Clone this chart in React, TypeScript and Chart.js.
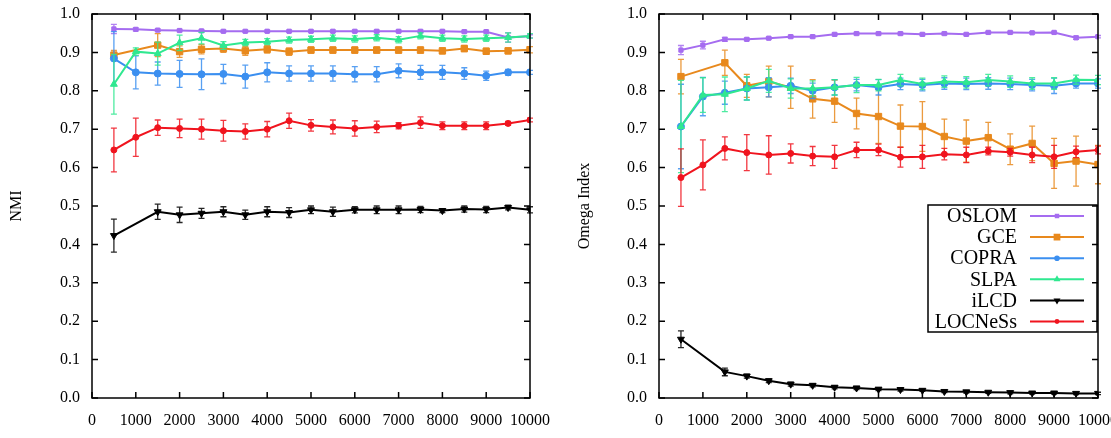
import React, { useEffect, useRef } from "react";
import { Chart, registerables } from "chart.js";

Chart.register(...registerables);

// ---------- data ----------
const xValues = [500, 1000, 1500, 2000, 2500, 3000, 3500, 4000, 4500, 5000, 5500, 6000, 6500, 7000, 7500, 8000, 8500, 9000, 9500, 10000];
const seriesNames = ["OSLOM", "GCE", "COPRA", "SLPA", "iLCD", "LOCNeSs"];

// NMI (left panel)
const nmiOSLOM = [0.961, 0.960, 0.958, 0.957, 0.956, 0.955, 0.955, 0.955, 0.955, 0.955, 0.955, 0.955, 0.955, 0.955, 0.955, 0.955, 0.954, 0.954, 0.939, 0.942];
const nmiGCE = [0.893, null, 0.919, 0.902, 0.908, 0.910, 0.904, 0.908, 0.902, 0.906, 0.906, 0.906, 0.906, 0.906, 0.906, 0.904, 0.910, 0.903, 0.904, 0.907];
const nmiCOPRA = [0.884, 0.848, 0.845, 0.844, 0.843, 0.844, 0.837, 0.848, 0.845, 0.845, 0.845, 0.843, 0.843, 0.852, 0.848, 0.848, 0.845, 0.839, 0.848, 0.848];
const nmiSLPA = [0.817, 0.902, 0.897, 0.925, 0.937, 0.918, 0.926, 0.928, 0.932, 0.934, 0.937, 0.935, 0.938, 0.933, 0.943, 0.937, 0.935, 0.937, 0.939, 0.943];
const nmiILCD = [0.423, null, 0.485, 0.477, 0.481, 0.485, 0.477, 0.485, 0.483, 0.490, 0.485, 0.490, 0.490, 0.490, 0.491, 0.488, 0.492, 0.491, 0.496, 0.490];
const nmiLOCNeSs = [0.646, 0.679, 0.704, 0.702, 0.700, 0.696, 0.694, 0.700, 0.722, 0.710, 0.706, 0.702, 0.706, 0.709, 0.717, 0.709, 0.709, 0.709, 0.715, 0.724];

const nmiOSLOMErr = [0.012, 0.004, 0.003, 0.003, 0.003, 0.003, 0.003, 0.003, 0.003, 0.003, 0.003, 0.003, 0.003, 0.003, 0.003, 0.003, 0.003, 0.003, 0.012, 0.004];
const nmiGCEErr = [0.012, 0, 0.03, 0.015, 0.012, 0.01, 0.012, 0.01, 0.01, 0.008, 0.008, 0.008, 0.008, 0.008, 0.008, 0.008, 0.008, 0.008, 0.008, 0.008];
const nmiCOPRAErr = [0.07, 0.043, 0.03, 0.035, 0.04, 0.025, 0.03, 0.025, 0.02, 0.02, 0.02, 0.02, 0.02, 0.018, 0.018, 0.018, 0.015, 0.012, 0.008, 0.005];
const nmiSLPAErr = [0.078, 0.01, 0.03, 0.02, 0.015, 0.01, 0.008, 0.008, 0.008, 0.008, 0.008, 0.008, 0.008, 0.008, 0.008, 0.008, 0.008, 0.008, 0.012, 0.006];
const nmiILCDErr = [0.043, 0, 0.02, 0.02, 0.013, 0.013, 0.012, 0.013, 0.013, 0.01, 0.012, 0.008, 0.01, 0.01, 0.008, 0.005, 0.008, 0.008, 0.006, 0.008];
const nmiLOCNeSsErr = [0.057, 0.05, 0.02, 0.024, 0.026, 0.027, 0.02, 0.02, 0.02, 0.015, 0.018, 0.02, 0.015, 0.008, 0.015, 0.01, 0.01, 0.01, 0.005, 0.005];

// Omega Index (right panel)
const omOSLOM = [0.906, 0.919, 0.934, 0.934, 0.937, 0.941, 0.941, 0.947, 0.949, 0.949, 0.949, 0.947, 0.949, 0.947, 0.952, 0.952, 0.951, 0.952, 0.938, 0.941];
const omGCE = [0.837, null, 0.873, 0.813, 0.824, 0.809, 0.779, 0.773, 0.741, 0.733, 0.708, 0.707, 0.681, 0.669, 0.678, 0.648, 0.663, 0.611, 0.617, 0.608];
const omCOPRA = [0.707, 0.785, 0.795, 0.806, 0.809, 0.813, 0.800, 0.809, 0.815, 0.809, 0.818, 0.815, 0.819, 0.818, 0.819, 0.818, 0.815, 0.813, 0.819, 0.819];
const omSLPA = [0.707, 0.789, 0.791, 0.806, 0.826, 0.806, 0.806, 0.809, 0.815, 0.815, 0.828, 0.818, 0.824, 0.822, 0.828, 0.824, 0.819, 0.819, 0.829, 0.828];
const omILCD = [0.153, null, 0.068, 0.057, 0.045, 0.036, 0.033, 0.028, 0.026, 0.023, 0.022, 0.020, 0.017, 0.016, 0.015, 0.014, 0.013, 0.013, 0.012, 0.012];
const omLOCNeSs = [0.574, 0.607, 0.650, 0.639, 0.633, 0.637, 0.630, 0.628, 0.646, 0.646, 0.627, 0.628, 0.635, 0.633, 0.643, 0.640, 0.633, 0.628, 0.641, 0.646];

const omOSLOMErr = [0.012, 0.01, 0.005, 0.003, 0.003, 0.003, 0.003, 0.003, 0.003, 0.003, 0.003, 0.003, 0.003, 0.003, 0.003, 0.003, 0.003, 0.003, 0.004, 0.003];
const omGCEErr = [0.045, 0, 0.033, 0.03, 0.04, 0.055, 0.05, 0.055, 0.04, 0.07, 0.055, 0.065, 0.045, 0.055, 0.04, 0.04, 0.045, 0.065, 0.065, 0.05];
const omCOPRAErr = [0.11, 0.05, 0.03, 0.03, 0.025, 0.02, 0.02, 0.02, 0.015, 0.02, 0.015, 0.015, 0.015, 0.015, 0.015, 0.015, 0.015, 0.02, 0.012, 0.012];
const omSLPAErr = [0.12, 0.045, 0.045, 0.03, 0.03, 0.025, 0.02, 0.02, 0.02, 0.015, 0.015, 0.015, 0.015, 0.015, 0.015, 0.015, 0.015, 0.015, 0.012, 0.012];
const omILCDErr = [0.022, 0, 0.01, 0.005, 0.005, 0.005, 0.004, 0.004, 0.004, 0.004, 0.004, 0.003, 0.003, 0.003, 0.003, 0.003, 0.003, 0.003, 0.003, 0.003];
const omLOCNeSsErr = [0.075, 0.065, 0.03, 0.047, 0.05, 0.025, 0.025, 0.03, 0.02, 0.015, 0.026, 0.03, 0.015, 0.02, 0.01, 0.01, 0.02, 0.03, 0.015, 0.01];

const yTickLabels = ["0.0", "0.1", "0.2", "0.3", "0.4", "0.5", "0.6", "0.7", "0.8", "0.9", "1.0"];
const xTickLabels = ["0", "1000", "2000", "3000", "4000", "5000", "6000", "7000", "8000", "9000", "10000"];

// ---------- styles ----------
const COLORS = ["#a56cf0", "#e8891d", "#3b8ff0", "#2fe890", "#000000", "#f0141e"];
const POINT_STYLES = ["rect", "rect", "circle", "triangle", "triangle", "circle"];
const POINT_ROT = [0, 0, 0, 0, 180, 0];
const POINT_RADIUS = [3, 4.5, 3.5, 4, 4, 3];
const FONT = "'Liberation Serif', 'DejaVu Serif', serif";

function buildDatasets(values: (number | null)[][], errors: number[][]) {
  return values.map((vals, i) => ({
    label: seriesNames[i],
    data: xValues
      .map((x, j) => (vals[j] == null ? null : { x, y: vals[j] as number, e: errors[i][j] }))
      .filter((p) => p !== null),
    borderColor: COLORS[i],
    backgroundColor: COLORS[i],
    borderWidth: 2,
    pointStyle: POINT_STYLES[i],
    pointRotation: POINT_ROT[i],
    pointRadius: POINT_RADIUS[i],
    pointBorderWidth: 1,
    tension: 0,
    order: values.length - i,
  }));
}

const errorBarPlugin = {
  id: "errorBars",
  beforeDatasetDraw(chart: any, args: any) {
    const ds = chart.data.datasets[args.index];
    const ys = chart.scales.y;
    const ctx = chart.ctx;
    ctx.save();
    ctx.strokeStyle = ds.borderColor;
    ctx.globalAlpha = 0.85;
    ctx.lineWidth = 1.3;
    args.meta.data.forEach((el: any, j: number) => {
      const p = ds.data[j];
      if (!p || !p.e) return;
      const px = el.x;
      const y1 = ys.getPixelForValue(p.y + p.e);
      const y2 = ys.getPixelForValue(p.y - p.e);
      ctx.beginPath();
      ctx.moveTo(px, y1);
      ctx.lineTo(px, y2);
      ctx.moveTo(px - 3, y1);
      ctx.lineTo(px + 3, y1);
      ctx.moveTo(px - 3, y2);
      ctx.lineTo(px + 3, y2);
      ctx.stroke();
    });
    ctx.restore();
  },
};

const framePlugin = {
  id: "gnuFrame",
  afterDatasetsDraw(chart: any) {
    const { ctx, chartArea: a } = chart;
    const xs = chart.scales.x;
    const ys = chart.scales.y;
    ctx.save();
    ctx.strokeStyle = "#000";
    ctx.lineWidth = 1.5;
    ctx.strokeRect(a.left, a.top, a.right - a.left, a.bottom - a.top);
    ctx.beginPath();
    const tl = 6;
    yTickLabels.forEach((t) => {
      const py = ys.getPixelForValue(parseFloat(t));
      ctx.moveTo(a.left, py);
      ctx.lineTo(a.left + tl, py);
      ctx.moveTo(a.right, py);
      ctx.lineTo(a.right - tl, py);
    });
    xTickLabels.forEach((t) => {
      const px = xs.getPixelForValue(parseFloat(t));
      ctx.moveTo(px, a.bottom);
      ctx.lineTo(px, a.bottom - tl);
      ctx.moveTo(px, a.top);
      ctx.lineTo(px, a.top + tl);
    });
    ctx.stroke();
    ctx.restore();
  },
};

function drawMarker(ctx: CanvasRenderingContext2D, style: string, rot: number, r: number, x: number, y: number) {
  ctx.beginPath();
  if (style === "rect") {
    ctx.rect(x - r * 0.75, y - r * 0.75, r * 1.5, r * 1.5);
  } else if (style === "circle") {
    ctx.arc(x, y, r * 0.8, 0, Math.PI * 2);
  } else {
    const s = rot === 180 ? -1 : 1;
    ctx.moveTo(x, y - s * r);
    ctx.lineTo(x - r * 0.87, y + s * r * 0.5);
    ctx.lineTo(x + r * 0.87, y + s * r * 0.5);
    ctx.closePath();
  }
  ctx.fill();
}

const gnuLegendPlugin = {
  id: "gnuLegend",
  afterDraw(chart: any, _args: any, opts: any) {
    if (!opts || !opts.show) return;
    const { ctx, chartArea: a } = chart;
    const x0 = a.right - 170;
    const x1 = a.right - 1;
    const y0 = a.top + 191;
    const y1 = a.top + 318;
    ctx.save();
    ctx.strokeStyle = "#000";
    ctx.lineWidth = 1.5;
    ctx.strokeRect(x0, y0, x1 - x0, y1 - y0);
    ctx.font = `20px ${FONT}`;
    ctx.textAlign = "right";
    ctx.textBaseline = "middle";
    chart.data.datasets.forEach((ds: any, i: number) => {
      const cy = y0 + 11 + i * 21.1;
      ctx.fillStyle = "#000";
      ctx.fillText(ds.label, x0 + 89, cy + 1);
      ctx.strokeStyle = ds.borderColor;
      ctx.lineWidth = 2;
      ctx.beginPath();
      ctx.moveTo(x0 + 102, cy);
      ctx.lineTo(x0 + 156, cy);
      ctx.stroke();
      ctx.fillStyle = ds.borderColor;
      drawMarker(ctx, POINT_STYLES[i], POINT_ROT[i], POINT_RADIUS[i], x0 + 129, cy);
    });
    ctx.restore();
  },
};

type PanelProps = {
  width: number;
  height: number;
  left: number;
  yTitle: string;
  yAxisWidth: number;
  titlePad: number;
  padRight: number;
  values: (number | null)[][];
  errors: number[][];
  showLegend: boolean;
};

function Panel(props: PanelProps) {
  const ref = useRef<HTMLCanvasElement | null>(null);
  useEffect(() => {
    if (!ref.current) return;
    const chart = new Chart(ref.current, {
      type: "line",
      data: { datasets: buildDatasets(props.values, props.errors) as any },
      plugins: [errorBarPlugin, framePlugin, gnuLegendPlugin],
      options: {
        animation: false,
        responsive: false,
        maintainAspectRatio: false,
        layout: { padding: { left: 0, right: props.padRight, top: 14, bottom: 0 } },
        plugins: {
          legend: { display: false },
          tooltip: { enabled: false },
          gnuLegend: { show: props.showLegend },
        } as any,
        scales: {
          x: {
            type: "linear",
            min: 0,
            max: 10000,
            grid: { display: false, drawTicks: false },
            border: { display: false },
            afterBuildTicks: (scale: any) => {
              scale.ticks = xTickLabels.map((t) => ({ value: parseFloat(t) }));
            },
            ticks: {
              autoSkip: false,
              maxRotation: 0,
              minRotation: 0,
              padding: 13,
              color: "#000",
              font: { family: FONT, size: 16 },
              callback: (v: any) => String(v),
            },
            afterFit: (scale: any) => {
              scale.height = 40;
              scale.paddingLeft = 0;
              scale.paddingRight = 0;
            },
          },
          y: {
            type: "linear",
            min: 0,
            max: 1,
            grid: { display: false, drawTicks: false },
            border: { display: false },
            afterBuildTicks: (scale: any) => {
              scale.ticks = yTickLabels.map((t) => ({ value: parseFloat(t) }));
            },
            ticks: {
              padding: 12,
              color: "#000",
              font: { family: FONT, size: 16 },
              callback: (v: any) => Number(v).toFixed(1),
            },
            title: {
              display: true,
              text: props.yTitle,
              color: "#000",
              font: { family: FONT, size: 16 },
              padding: { top: props.titlePad, bottom: 0 },
            },
            afterFit: (scale: any) => {
              scale.width = props.yAxisWidth;
              scale.paddingTop = 0;
              scale.paddingBottom = 0;
            },
          },
        },
      } as any,
    });
    return () => chart.destroy();
  }, []);
  return (
    <canvas
      ref={ref}
      width={props.width}
      height={props.height}
      style={{ position: "absolute", left: props.left, top: 0, width: props.width, height: props.height, display: "block" }}
    />
  );
}

export default function App() {
  return (
    <div style={{ position: "fixed", left: 0, top: 0, width: 1111, height: 438, background: "#fff", overflow: "hidden" }}>
      <Panel
        width={555}
        height={438}
        left={0}
        yTitle="NMI"
        yAxisWidth={92}
        titlePad={7}
        padRight={25}
        values={[nmiOSLOM, nmiGCE, nmiCOPRA, nmiSLPA, nmiILCD, nmiLOCNeSs]}
        errors={[nmiOSLOMErr, nmiGCEErr, nmiCOPRAErr, nmiSLPAErr, nmiILCDErr, nmiLOCNeSsErr]}
        showLegend={false}
      />
      <Panel
        width={556}
        height={438}
        left={555}
        yTitle="Omega Index"
        yAxisWidth={104}
        titlePad={20}
        padRight={13}
        values={[omOSLOM, omGCE, omCOPRA, omSLPA, omILCD, omLOCNeSs]}
        errors={[omOSLOMErr, omGCEErr, omCOPRAErr, omSLPAErr, omILCDErr, omLOCNeSsErr]}
        showLegend={true}
      />
    </div>
  );
}
